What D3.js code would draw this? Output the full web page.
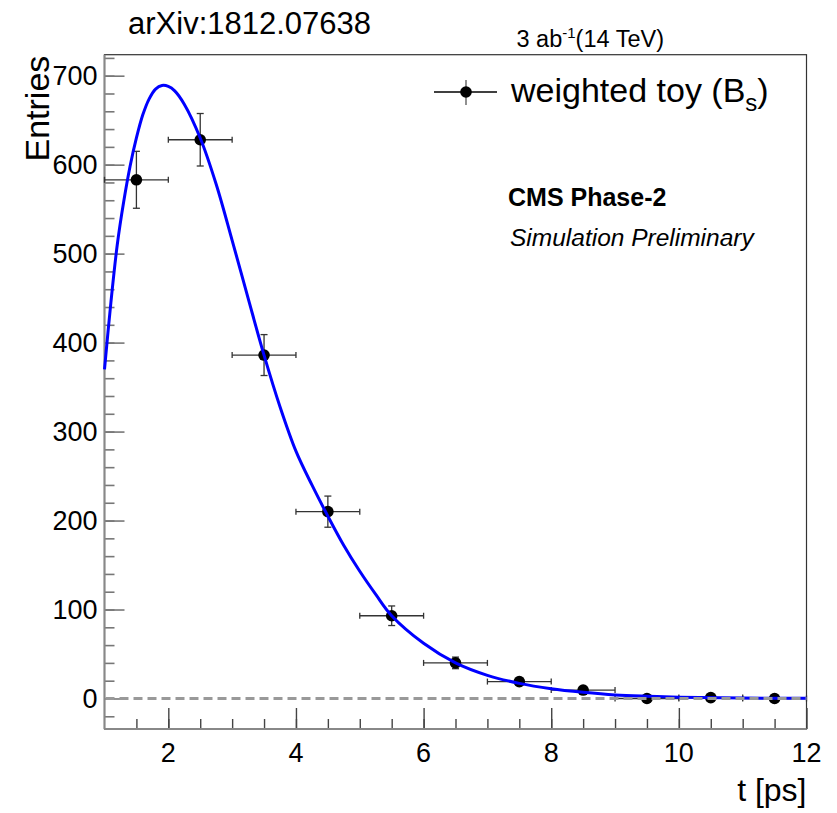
<!DOCTYPE html>
<html>
<head>
<meta charset="utf-8">
<script src="https://cdn.jsdelivr.net/npm/d3@7"></script>
<style>
  html, body { margin: 0; padding: 0; background: #fff; }
  svg text { font-family: "Liberation Sans", Arial, sans-serif; }
</style>
</head>
<body>
<div id="chart"></div>
<script>
// bin centres, contents and errors of the weighted toy
const binCenters = [1.5, 2.5, 3.5, 4.5, 5.5, 6.5, 7.5, 8.5, 9.5, 10.5, 11.5];
const binContents = [583, 628, 386, 210, 93, 40, 19, 9.5, 0, 1, 0];
const binErrors = [32, 29.5, 23, 17.5, 11, 6.5, 4, 3, 1, 1.5, 1];
const binHalfWidth = 0.5;

// fitted curve
const fitT = [1.0, 1.1, 1.2, 1.3, 1.4, 1.5, 1.6, 1.7, 1.8, 1.9, 2.0, 2.1, 2.25, 2.5, 2.75,
  3.0, 3.25, 3.5, 3.75, 4.0, 4.25, 4.5, 4.75, 5.0, 5.25, 5.5, 6.0, 6.5, 7.0, 7.5, 8.0,
  8.5, 9.0, 9.5, 10, 11, 12];
const fitY = [370, 445, 510, 558, 598, 630, 656, 674, 685, 689, 688, 683, 668, 630, 578,
  515, 450, 386, 328, 278, 240, 205, 172, 143, 117, 93, 62, 40, 26, 17, 11,
  7, 4, 2.5, 1.5, 0.5, 0.2];

const xMajor = [2, 4, 6, 8, 10, 12];
const yMajor = [0, 100, 200, 300, 400, 500, 600, 700];

const width = 837, height = 813;
const frame = { left: 104.5, right: 806.5, top: 54.7, bottom: 729 };

const svg = d3.select("#chart")
  .append("svg")
  .attr("width", width)
  .attr("height", height);

const x = d3.scaleLinear().domain([1, 12]).range([frame.left, frame.right]);
const y = d3.scaleLinear().domain([-34.3, 723.6]).range([frame.bottom, frame.top]);

// frame
svg.append("rect")
  .attr("x", frame.left).attr("y", frame.top)
  .attr("width", frame.right - frame.left)
  .attr("height", frame.bottom - frame.top)
  .attr("fill", "none")
  .attr("stroke", "#333")
  .attr("stroke-width", 1.2);

// y axis: major every 100, minor every 20
const yAxis = svg.append("g").attr("transform", `translate(${frame.left},0)`);
yAxis.call(d3.axisRight(y).tickValues(d3.range(-20, 721, 20)).tickSize(10).tickFormat(""))
  .call(g => g.select(".domain").remove())
  .call(g => g.selectAll(".tick line").attr("stroke", "#777").attr("stroke-width", 1.6));
yAxis.append("g")
  .call(d3.axisRight(y).tickValues(yMajor).tickSize(20).tickFormat(""))
  .call(g => g.select(".domain").remove())
  .call(g => g.selectAll(".tick line").attr("stroke", "#777").attr("stroke-width", 1.6));
yAxis.selectAll(".ylab")
  .data(yMajor)
  .join("text")
  .attr("class", "ylab")
  .attr("x", -7)
  .attr("y", d => y(d) + 9.5)
  .attr("text-anchor", "end")
  .attr("font-size", 27)
  .attr("fill", "#000")
  .text(d => d);
svg.append("line")
  .attr("x1", frame.left).attr("x2", frame.left)
  .attr("y1", frame.top).attr("y2", frame.bottom)
  .attr("stroke", "#888").attr("stroke-width", 2);

// x axis: major every 2, minor every 0.5
const xAxis = svg.append("g").attr("transform", `translate(0,${frame.bottom})`);
xAxis.call(d3.axisTop(x).tickValues(d3.range(1.5, 12, 0.5)).tickSize(10).tickFormat(""))
  .call(g => g.select(".domain").remove())
  .call(g => g.selectAll(".tick line").attr("stroke", "#444").attr("stroke-width", 1.4));
xAxis.append("g")
  .call(d3.axisTop(x).tickValues(xMajor).tickSize(21).tickFormat(""))
  .call(g => g.select(".domain").remove())
  .call(g => g.selectAll(".tick line").attr("stroke", "#444").attr("stroke-width", 1.4));
xAxis.selectAll(".xlab")
  .data(xMajor)
  .join("text")
  .attr("class", "xlab")
  .attr("x", d => x(d))
  .attr("y", 33)
  .attr("text-anchor", "middle")
  .attr("font-size", 27)
  .attr("fill", "#000")
  .text(d => d);
svg.append("line")
  .attr("x1", frame.left).attr("x2", frame.right)
  .attr("y1", frame.bottom).attr("y2", frame.bottom)
  .attr("stroke", "#888").attr("stroke-width", 2);

// axis titles
svg.append("text")
  .attr("transform", `translate(49,${frame.top + 1}) rotate(-90)`)
  .attr("text-anchor", "end")
  .attr("font-size", 34)
  .text("Entries");
svg.append("text")
  .attr("x", frame.right)
  .attr("y", 801)
  .attr("text-anchor", "end")
  .attr("font-size", 32)
  .text("t [ps]");

// data points with error bars
const pts = binCenters.map((c, i) => ({ t: c, v: binContents[i], e: binErrors[i] }));
const bars = svg.append("g").attr("stroke", "#333").attr("stroke-width", 1.3);
bars.selectAll(".xerr").data(pts).join("line")
  .attr("x1", d => x(d.t - binHalfWidth)).attr("x2", d => x(d.t + binHalfWidth))
  .attr("y1", d => y(d.v)).attr("y2", d => y(d.v));
bars.selectAll(".yerr").data(pts).join("line")
  .attr("x1", d => x(d.t)).attr("x2", d => x(d.t))
  .attr("y1", d => y(d.v - d.e)).attr("y2", d => y(d.v + d.e));
bars.selectAll(".xcapl").data(pts).join("line")
  .attr("x1", d => x(d.t - binHalfWidth)).attr("x2", d => x(d.t - binHalfWidth))
  .attr("y1", d => y(d.v) - 3).attr("y2", d => y(d.v) + 3);
bars.selectAll(".xcapr").data(pts).join("line")
  .attr("x1", d => x(d.t + binHalfWidth)).attr("x2", d => x(d.t + binHalfWidth))
  .attr("y1", d => y(d.v) - 3).attr("y2", d => y(d.v) + 3);
bars.selectAll(".ycapt").data(pts.filter(d => d.e > 5)).join("line")
  .attr("x1", d => x(d.t) - 3.5).attr("x2", d => x(d.t) + 3.5)
  .attr("y1", d => y(d.v + d.e)).attr("y2", d => y(d.v + d.e));
bars.selectAll(".ycapb").data(pts.filter(d => d.e > 5)).join("line")
  .attr("x1", d => x(d.t) - 3.5).attr("x2", d => x(d.t) + 3.5)
  .attr("y1", d => y(d.v - d.e)).attr("y2", d => y(d.v - d.e));

svg.append("g").selectAll("circle")
  .data(pts)
  .join("circle")
  .attr("cx", d => x(d.t))
  .attr("cy", d => y(d.v))
  .attr("r", 5.8)
  .attr("fill", "#000");

// fit curve
const line = d3.line()
  .x(d => x(d[0]))
  .y(d => y(d[1]))
  .curve(d3.curveCatmullRom.alpha(0.5));
svg.append("path")
  .datum(fitT.map((t, i) => [t, fitY[i]]))
  .attr("d", line)
  .attr("fill", "none")
  .attr("stroke", "#0000ff")
  .attr("stroke-width", 3);

// zero line
svg.append("line")
  .attr("x1", frame.left + 1).attr("x2", frame.right)
  .attr("y1", y(0)).attr("y2", y(0))
  .attr("stroke", "#999")
  .attr("stroke-width", 3)
  .attr("stroke-dasharray", "9 5");

// legend
const lg = svg.append("g");
lg.append("line")
  .attr("x1", 434).attr("x2", 497).attr("y1", 92).attr("y2", 92)
  .attr("stroke", "#000").attr("stroke-width", 1.3);
lg.append("line")
  .attr("x1", 466).attr("x2", 466).attr("y1", 80).attr("y2", 105)
  .attr("stroke", "#555").attr("stroke-width", 1.3);
lg.append("circle").attr("cx", 466).attr("cy", 92).attr("r", 5.8).attr("fill", "#000");
const lt = lg.append("text")
  .attr("x", 511)
  .attr("y", 102)
  .attr("font-size", 34);
lt.append("tspan").text("weighted toy (B");
lt.append("tspan").attr("font-size", 24).attr("dy", 9).text("s");
lt.append("tspan").attr("dy", -9).text(")");

// labels
svg.append("text")
  .attr("x", 508).attr("y", 206)
  .attr("font-size", 25)
  .attr("font-weight", "bold")
  .text("CMS Phase-2");
svg.append("text")
  .attr("x", 510).attr("y", 246)
  .attr("font-size", 24.5)
  .attr("font-style", "italic")
  .text("Simulation Preliminary");

const lumi = svg.append("text")
  .attr("x", 664).attr("y", 47)
  .attr("text-anchor", "end")
  .attr("font-size", 23.5);
lumi.append("tspan").text("3 ab");
lumi.append("tspan").attr("font-size", 15).attr("dy", -9).text("-1");
lumi.append("tspan").attr("dy", 9).text("(14 TeV)");

svg.append("text")
  .attr("x", 128).attr("y", 34)
  .attr("font-family", "'Open Sans', sans-serif")
  .attr("font-size", 31)
  .text("arXiv:1812.07638");
</script>
</body>
</html>
